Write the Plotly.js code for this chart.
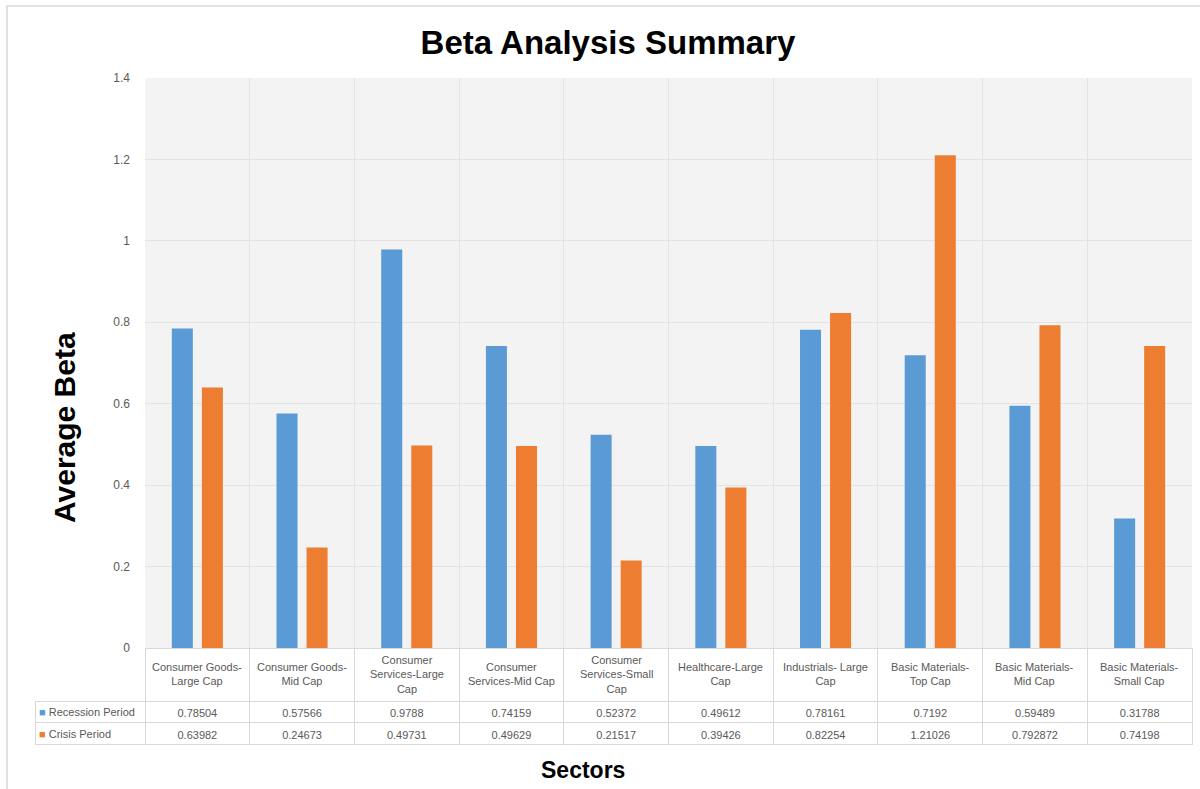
<!DOCTYPE html>
<html>
<head>
<meta charset="utf-8">
<script src="https://cdn.plot.ly/plotly-3.0.1.min.js"></script>
<style>html,body{margin:0;padding:0;background:#fff;}#chart{width:1200px;height:789px;}</style>
</head>
<body>
<div id="chart"></div>
<script>
// ---- data ----
const categories = [
  "Consumer Goods-Large Cap", "Consumer Goods-Mid Cap", "Consumer Services-Large Cap",
  "Consumer Services-Mid Cap", "Consumer Services-Small Cap", "Healthcare-Large Cap",
  "Industrials- Large Cap", "Basic Materials-Top Cap", "Basic Materials-Mid Cap",
  "Basic Materials-Small Cap"
];
const categoryLabels = [
  "Consumer Goods-<br>Large Cap", "Consumer Goods-<br>Mid Cap", "Consumer<br>Services-Large<br>Cap",
  "Consumer<br>Services-Mid Cap", "Consumer<br>Services-Small<br>Cap", "Healthcare-Large<br>Cap",
  "Industrials- Large<br>Cap", "Basic Materials-<br>Top Cap", "Basic Materials-<br>Mid Cap",
  "Basic Materials-<br>Small Cap"
];
const seriesNames = ["Recession Period", "Crisis Period"];
const recession = [0.78504, 0.57566, 0.9788, 0.74159, 0.52372, 0.49612, 0.78161, 0.7192, 0.59489, 0.31788];
const crisis = [0.63982, 0.24673, 0.49731, 0.49629, 0.21517, 0.39426, 0.82254, 1.21026, 0.792872, 0.74198];
const recessionText = ["0.78504", "0.57566", "0.9788", "0.74159", "0.52372", "0.49612", "0.78161", "0.7192", "0.59489", "0.31788"];
const crisisText = ["0.63982", "0.24673", "0.49731", "0.49629", "0.21517", "0.39426", "0.82254", "1.21026", "0.792872", "0.74198"];
const colors = ["#5b9bd5", "#ed7d31"];

// ---- helpers ----
const W = 1200, H = 789;
const px = v => v / W;
const py = v => 1 - v / H;
const grey = "#595959";
const lineGrey = "#d9d9d9";
const fontFam = "Liberation Sans, Arial, sans-serif";

const bars = [
  {type: "bar", name: seriesNames[0], x: categories, y: recession, marker: {color: colors[0]}, showlegend: false, hoverinfo: "x+y"},
  {type: "bar", name: seriesNames[1], x: categories, y: crisis, marker: {color: colors[1]}, showlegend: false, hoverinfo: "x+y"}
];

const cellValues = [["", ""]].concat(categories.map((c, i) => [recessionText[i], crisisText[i]]));
const headerValues = [""].concat(categories.map(() => ""));
const colWidths = [110].concat(categories.map(() => 104.7));

const table = {
  type: "table",
  domain: {x: [px(35), px(1192)], y: [py(752), py(648)]},
  columnwidth: colWidths,
  header: {
    values: headerValues,
    height: 53,
    fill: {color: ["rgba(0,0,0,0)"].concat(categories.map(() => "white"))},
    line: {color: ["rgba(0,0,0,0)"].concat(categories.map(() => lineGrey)), width: 1}
  },
  cells: {
    values: cellValues,
    height: 21.5,
    align: "center",
    fill: {color: "white"},
    line: {color: lineGrey, width: 1},
    font: {family: fontFam, size: 11, color: grey}
  }
};

const annotations = categories.map((c, i) => ({
  x: c, xref: "x", y: py(674), yref: "paper",
  text: categoryLabels[i], showarrow: false, yanchor: "middle", xanchor: "center", align: "center",
  font: {family: fontFam, size: 11, color: grey}
}));
seriesNames.forEach((s, i) => {
  annotations.push({
    x: px(37), y: py(712 + 22 * i), xref: "paper", yref: "paper",
    text: `<span style="color:${colors[i]}">■</span> ${s}`,
    showarrow: false, xanchor: "left", yanchor: "middle",
    font: {family: fontFam, size: 11, color: grey}
  });
});
annotations.push({
  x: px(64), y: py(428), xref: "paper", yref: "paper", text: "<b>Average Beta</b>",
  textangle: -90, showarrow: false, xanchor: "center", yanchor: "middle",
  font: {family: fontFam, size: 30, color: "#000"}
});
annotations.push({
  x: px(583), y: py(770), xref: "paper", yref: "paper", text: "<b>Sectors</b>",
  showarrow: false, xanchor: "center", yanchor: "middle",
  font: {family: fontFam, size: 23, color: "#000"}
});

const layout = {
  width: W, height: H,
  margin: {l: 0, r: 0, t: 0, b: 0},
  paper_bgcolor: "white",
  plot_bgcolor: "#f3f3f3",
  title: {
    text: "<b>Beta Analysis Summary</b>", x: px(608), xanchor: "center", y: py(42), yanchor: "middle",
    font: {family: fontFam, size: 33, color: "#000"}
  },
  barmode: "group",
  bargap: 0.426,
  bargroupgap: 0.3,
  xaxis: {
    type: "category", domain: [px(145), px(1192)],
    tickson: "boundaries", showgrid: true, gridcolor: "#e3e3e3", gridwidth: 1,
    showticklabels: false, ticks: "", showline: true, linecolor: lineGrey, fixedrange: true
  },
  yaxis: {
    domain: [py(648), py(78)], range: [0, 1.4], dtick: 0.2, tick0: 0,
    showgrid: true, gridcolor: "#e3e3e3", gridwidth: 1, zeroline: true, zerolinecolor: lineGrey,
    ticks: "", ticklabelstandoff: 14,
    tickfont: {family: fontFam, size: 12, color: grey}, fixedrange: true
  },
  annotations: annotations,
  shapes: [
    {type: "rect", xref: "paper", yref: "paper", x0: px(7), x1: 1.02, y0: -0.02, y1: py(6),
     line: {color: "#d9d9d9", width: 1.5}, fillcolor: "rgba(0,0,0,0)", layer: "below"}
  ]
};

Plotly.newPlot("chart", bars.concat([table]), layout, {displayModeBar: false});
</script>
</body>
</html>
